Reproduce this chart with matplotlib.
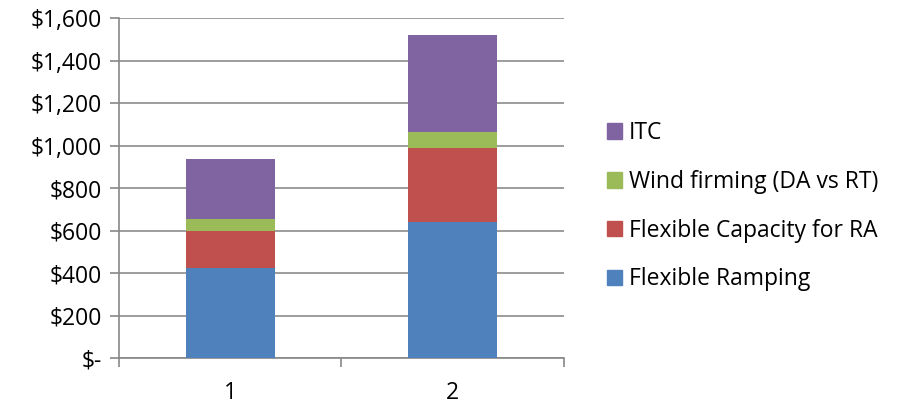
import matplotlib.pyplot as plt
from matplotlib.patches import Patch
from matplotlib.ticker import FuncFormatter
import numpy as np

# Stacked values per scenario
categories = ['1', '2']
flexible_ramping = [424, 640]
flexible_capacity_ra = [176, 351]
wind_firming = [55, 74]
itc = [281, 456]

series = [
    ('Flexible Ramping', flexible_ramping, '#4F81BD'),
    ('Flexible Capacity for RA', flexible_capacity_ra, '#C0504D'),
    ('Wind firming (DA vs RT)', wind_firming, '#9BBB59'),
    ('ITC', itc, '#8064A2'),
]

plt.rcParams['font.family'] = ['Open Sans', 'DejaVu Sans']

fig = plt.figure(figsize=(9.03, 4.07), dpi=100)
ax = fig.add_axes([0.1318, 0.1197, 0.4925, 0.8353])

x = np.arange(len(categories))
bottom = np.zeros(len(categories))
for name, vals, color in series:
    ax.bar(x, vals, width=0.4, bottom=bottom, color=color, label=name, zorder=3)
    bottom += np.array(vals)

ax.set_xlim(-0.5, 1.5)
ax.set_ylim(0, 1600)
ax.set_yticks(np.arange(0, 1601, 200))


def money(v, pos):
    if v == 0:
        return '$-'
    return f'${v:,.0f}'


ax.yaxis.set_major_formatter(FuncFormatter(money))
ax.set_xticks(x)
ax.set_xticklabels(categories)
ax.set_xticks([-0.5, 0.5, 1.5], minor=True)
ax.tick_params(axis='x', which='major', length=0, labelsize=16.5, pad=16.5, colors='black')
ax.tick_params(axis='x', which='minor', length=6.5, width=1.2, color='#888888')
ax.tick_params(axis='y', length=6.5, width=1.2, color='#888888', labelsize=16.5, pad=6)

ax.grid(axis='y', color='#8c8c8c', linewidth=1.2, zorder=0)
for side in ['top', 'right']:
    ax.spines[side].set_visible(False)
for side in ['left', 'bottom']:
    ax.spines[side].set_color('#888888')
    ax.spines[side].set_linewidth(1.2)

handles = [Patch(color=c, label=n) for n, _, c in series][::-1]
fig.legend(handles=handles, loc='center left', bbox_to_anchor=(0.672, 0.493),
           frameon=False, fontsize=16.5, handlelength=0.66, handleheight=0.66,
           handletextpad=0.3, labelspacing=1.08, borderaxespad=0, borderpad=0)

fig.savefig('out.png', dpi=100)
